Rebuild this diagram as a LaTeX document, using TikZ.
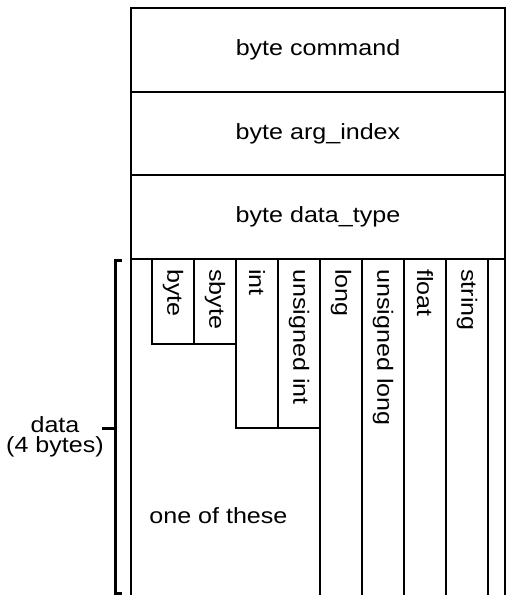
\documentclass[tikz,border=0pt]{standalone}
\usepackage{fontspec}
\setmainfont[FakeStretch=1.14]{Liberation Sans}
\usetikzlibrary{positioning}

\begin{document}
\begin{tikzpicture}[x=1pt, y=1pt, node distance=0pt, font=\fontsize{11}{10}\selectfont,
    field/.style={rectangle, draw, line width=1pt, minimum width=187pt, minimum height=41.8pt, inner sep=0pt, outer sep=0pt},
    cell/.style={line width=1pt},
    colname/.style={rotate=-90, anchor=west, inner sep=0pt},
    brace/.style={line width=1.5pt}]

    \clip (0,0) rectangle (253.5,-297.5);

    \node[field, anchor=north west] (cmd) at (65.5,-4) {byte command};
    \node[field, below=of cmd] (argidx) {byte arg\_index};
    \node[field, below=of argidx] (dtype) {byte data\_type};
    \node[field, below=of dtype, minimum height=172pt] (data) {};

    % the eight possible types
    \foreach \lbl/\bot [count=\i from 0] in {byte/172, sbyte/172, int/214, {unsigned int}/214,
        long/300, {unsigned long}/300, float/300, string/300}{
        \pgfmathsetmacro\xl{76+21*\i}
        \draw[cell] (\xl,-129.4) rectangle (\xl+21,-\bot);
        \node[colname] (t\i) at (\xl+10.5,-134.5) {\lbl};
    }

    \node[anchor=west, inner sep=0pt] (oneof) at (74.5,-257.75) {one of these};

    \coordinate (brtop) at (57.5,-130);
    \coordinate (brbot) at (57.5,-296.5);
    \coordinate (brmid) at (57.5,-214);
    \draw[brace] ([xshift=3.5pt]brtop) -- (brtop) -- (brbot) -- ([xshift=3.5pt]brbot);
    \draw[brace] (brmid) -- ++(-6.5,0);
    \node[align=center, inner sep=0pt] (size) at (27.5,-218.5) {data\\(4 bytes)};

\end{tikzpicture}
\end{document}
